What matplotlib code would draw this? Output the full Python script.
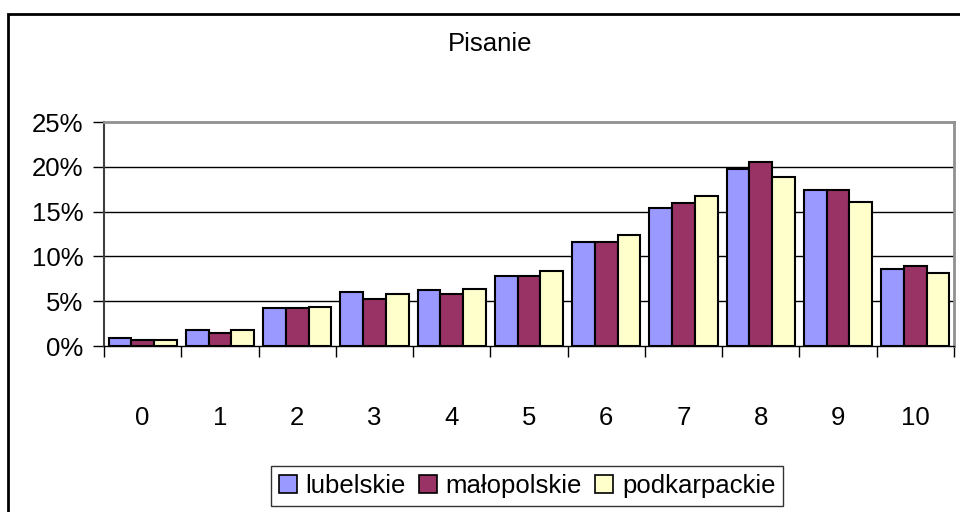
import numpy as np
import matplotlib
matplotlib.use('Agg')
from matplotlib import pyplot as plt
from matplotlib.patches import Rectangle

plt.rcParams['font.family'] = ['Liberation Sans', 'DejaVu Sans']

# dane (procenty)
categories = ['0', '1', '2', '3', '4', '5', '6', '7', '8', '9', '10']
lubelskie = [0.9, 1.8, 4.2, 6.0, 6.2, 7.8, 11.6, 15.4, 19.8, 17.4, 8.6]
malopolskie = [0.7, 1.5, 4.2, 5.3, 5.8, 7.8, 11.6, 16.0, 20.5, 17.4, 8.9]
podkarpackie = [0.7, 1.8, 4.4, 5.8, 6.4, 8.4, 12.4, 16.7, 18.9, 16.1, 8.2]
series_names = ['lubelskie', 'małopolskie', 'podkarpackie']
colors = ['#9999FF', '#993366', '#FFFFCC']

W, H = 960, 512
fs = 18.5
fig = plt.figure(figsize=(W / 100, H / 100), dpi=100)
ax = fig.add_axes([104 / W, 1 - 346 / H, 850 / W, 224 / H])

x = np.arange(len(categories))
w = 1 / 3.4
for i, (vals, name, col) in enumerate(zip([lubelskie, malopolskie, podkarpackie], series_names, colors)):
	ax.bar(x + (i - 1) * w, vals, width=w, color=col, edgecolor='black', linewidth=1.5,
		   label=name, zorder=3)

ax.set_xlim(-0.5, len(categories) - 0.5)
ax.set_ylim(0, 25)
ax.set_yticks([0, 5, 10, 15, 20, 25])
ax.set_yticklabels(['0%', '5%', '10%', '15%', '20%', '25%'])
ax.tick_params(axis='y', direction='out', length=8, width=1, pad=7, labelsize=fs)

# granice kategorii - znaczniki, srodki - etykiety
ax.set_xticks(np.arange(-0.5, len(categories), 1))
ax.set_xticklabels([])
ax.tick_params(axis='x', which='major', direction='out', length=8, width=1)
ax.set_xticks(x, minor=True)
ax.set_xticklabels(categories, minor=True)
ax.tick_params(axis='x', which='minor', length=0, pad=43, labelsize=fs)

for yv in [5, 10, 15, 20]:
	ax.axhline(yv, color='black', linewidth=1, zorder=1)

ax.spines['top'].set_color('#909090')
ax.spines['top'].set_linewidth(2)
ax.spines['right'].set_color('#909090')
ax.spines['right'].set_linewidth(2)
ax.spines['left'].set_color('#404040')
ax.spines['left'].set_linewidth(1.5)
ax.spines['bottom'].set_color('black')
ax.spines['bottom'].set_linewidth(1)

fig.text(490 / W, 1 - 44 / H, 'Pisanie', ha='center', va='center', fontsize=fs)

leg = fig.legend(loc='center', bbox_to_anchor=(527 / W, 1 - 486 / H), ncol=3, fontsize=fs,
				 frameon=True, fancybox=False, edgecolor='black', handlelength=0.7,
				 handleheight=0.7, handletextpad=0.35, columnspacing=0.5, borderpad=0.3,
				 borderaxespad=0)
leg.get_frame().set_linewidth(1)
for p in leg.get_patches():
	p.set_linewidth(1.2)

# ramka calego wykresu
fig.patches.append(Rectangle((8 / W, -0.1), 1.2, (1 - 14 / H) + 0.1, transform=fig.transFigure,
							 fill=False, edgecolor='black', linewidth=2))

fig.savefig('out.png', dpi=100)
